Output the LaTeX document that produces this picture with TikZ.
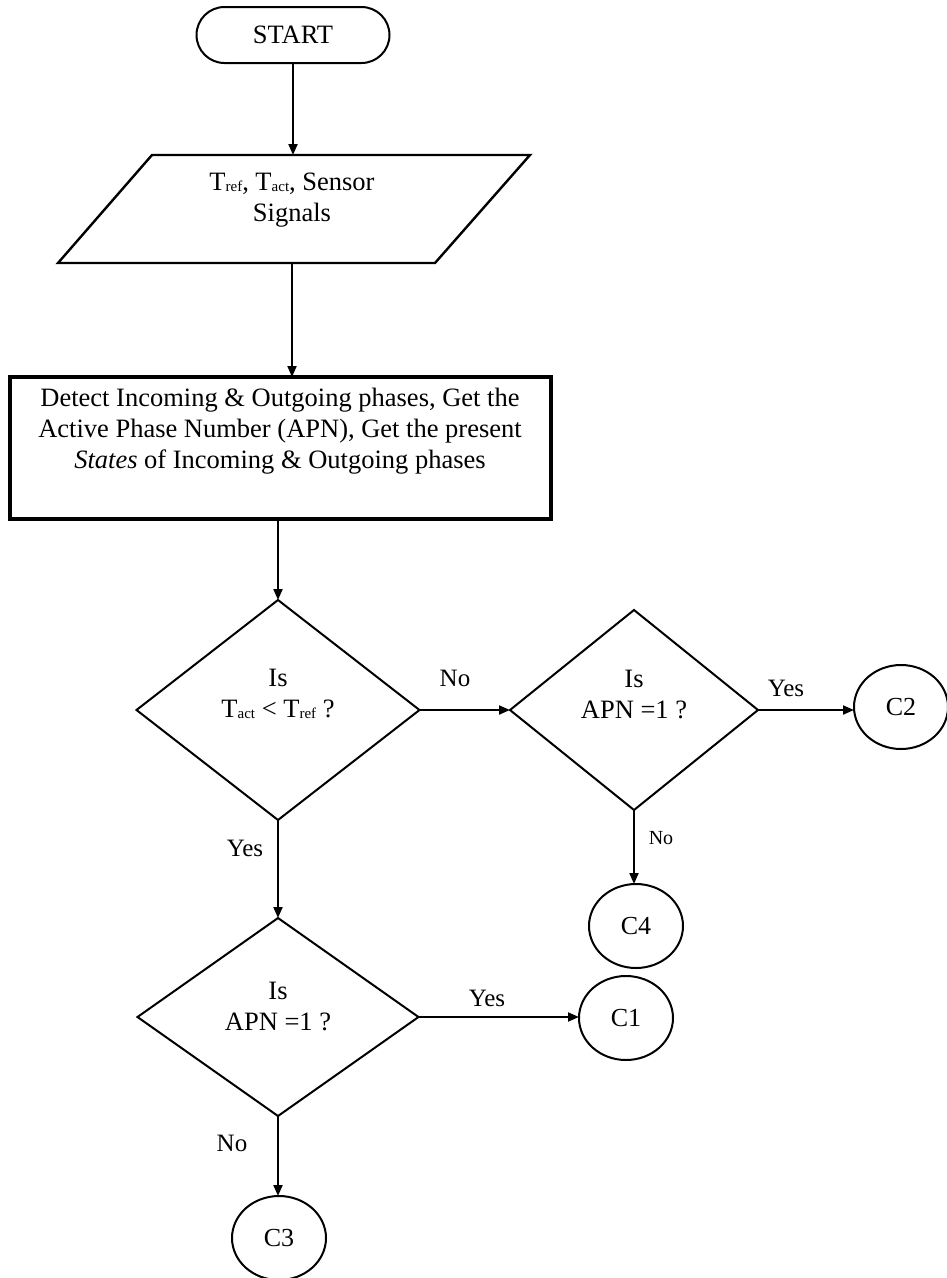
\documentclass[tikz,border=0pt]{standalone}
\usepackage{fontspec}
\setmainfont{Liberation Serif}
\usetikzlibrary{arrows.meta,shapes.geometric,shapes.misc}
% small, slightly lowered index text used after T
\newcommand\lowsub[1]{\raisebox{-1.5pt}{\fontsize{15}{15}\selectfont #1}}
\begin{document}
\begin{tikzpicture}[x=1pt,y=-1pt,
  every node/.style={inner sep=0pt, outer sep=0pt},
  body/.style={font=\fontsize{26.5}{31}\selectfont, align=center},
  lbl/.style={font=\fontsize{25}{28}\selectfont},
  smalllbl/.style={font=\fontsize{20}{24}\selectfont},
  terminal/.style={draw, rounded rectangle, line width=2pt, minimum width=193pt, minimum height=56pt, font=\fontsize{26.5}{31}\selectfont},
  ioedge/.style={draw, line width=2.4pt, line join=miter},
  procbox/.style={draw, rectangle, line width=3.5pt, minimum width=541pt, minimum height=142pt},
  decision/.style={draw, diamond, line width=2pt},
  connector/.style={draw, ellipse, line width=2pt, minimum width=94pt, minimum height=84pt, font=\fontsize{26}{30}\selectfont},
  flow/.style={line width=2pt, -{Triangle[length=11pt,width=9pt]}}
]
\useasboundingbox (0,0) rectangle (947,1278);

% main column
\node[terminal] (start) at (293,35) {START};

% input parallelogram
\path[ioedge] (58,263) -- (152,155) -- (530,155) -- (435,263) -- cycle;
\coordinate (intop) at (293,155);
\coordinate (inbot) at (292,263);
\node[body] (inputtxt) at (292,200) {T\lowsub{ref}, T\lowsub{act}, Sensor\\Signals};

\node[procbox] (proc) at (280.5,448) {};
\node[body] (proctxt) at (280,431) {Detect Incoming \& Outgoing phases, Get the\\Active Phase Number (APN), Get the present\\\textit{States} of Incoming \& Outgoing phases};

% decisions
\node[decision, minimum width=283pt, minimum height=220pt] (d1) at (278,710) {};
\node[body] (d1txt) at (278,694) {Is\\T\lowsub{act} < T\lowsub{ref} ?};
\node[decision, minimum width=248pt, minimum height=200pt] (d2) at (634,710) {};
\node[body] (d2txt) at (634,695) {Is\\APN =1 ?};
\node[decision, minimum width=281pt, minimum height=198pt] (d3) at (278,1017) {};
\node[body] (d3txt) at (278,1006) {Is\\APN =1 ?};

% off-page connectors
\node[connector] (c2) at (901,707) {C2};
\node[connector] (c4) at (636,926) {C4};
\node[connector] (c1) at (626,1018) {C1};
\node[connector] (c3) at (279,1238) {C3};

% flow lines
\draw[flow] (start) -- (intop);
\draw[flow] (inbot) -- (inbot |- proc.north);
\draw[flow] (d1.north |- proc.south) -- (d1.north);
\draw[flow] (d1.east) -- (d2.west);
\draw[flow] (d2.east) -- (d2.east -| c2.west);
\draw[flow] (d2.south) -- (d2.south |- c4.north);
\draw[flow] (d1.south) -- (d3.north);
\draw[flow] (d3.east) -- (d3.east -| c1.west);
\draw[flow] (d3.south) -- (d3.south |- c3.north);

% branch labels
\node[lbl] (l1) at (455,678) {No};
\node[lbl] (l2) at (786,688) {Yes};
\node[smalllbl] (l3) at (661,838) {No};
\node[lbl] (l4) at (245,848) {Yes};
\node[lbl] (l5) at (487,998) {Yes};
\node[lbl] (l6) at (232,1143) {No};
\end{tikzpicture}
\end{document}
